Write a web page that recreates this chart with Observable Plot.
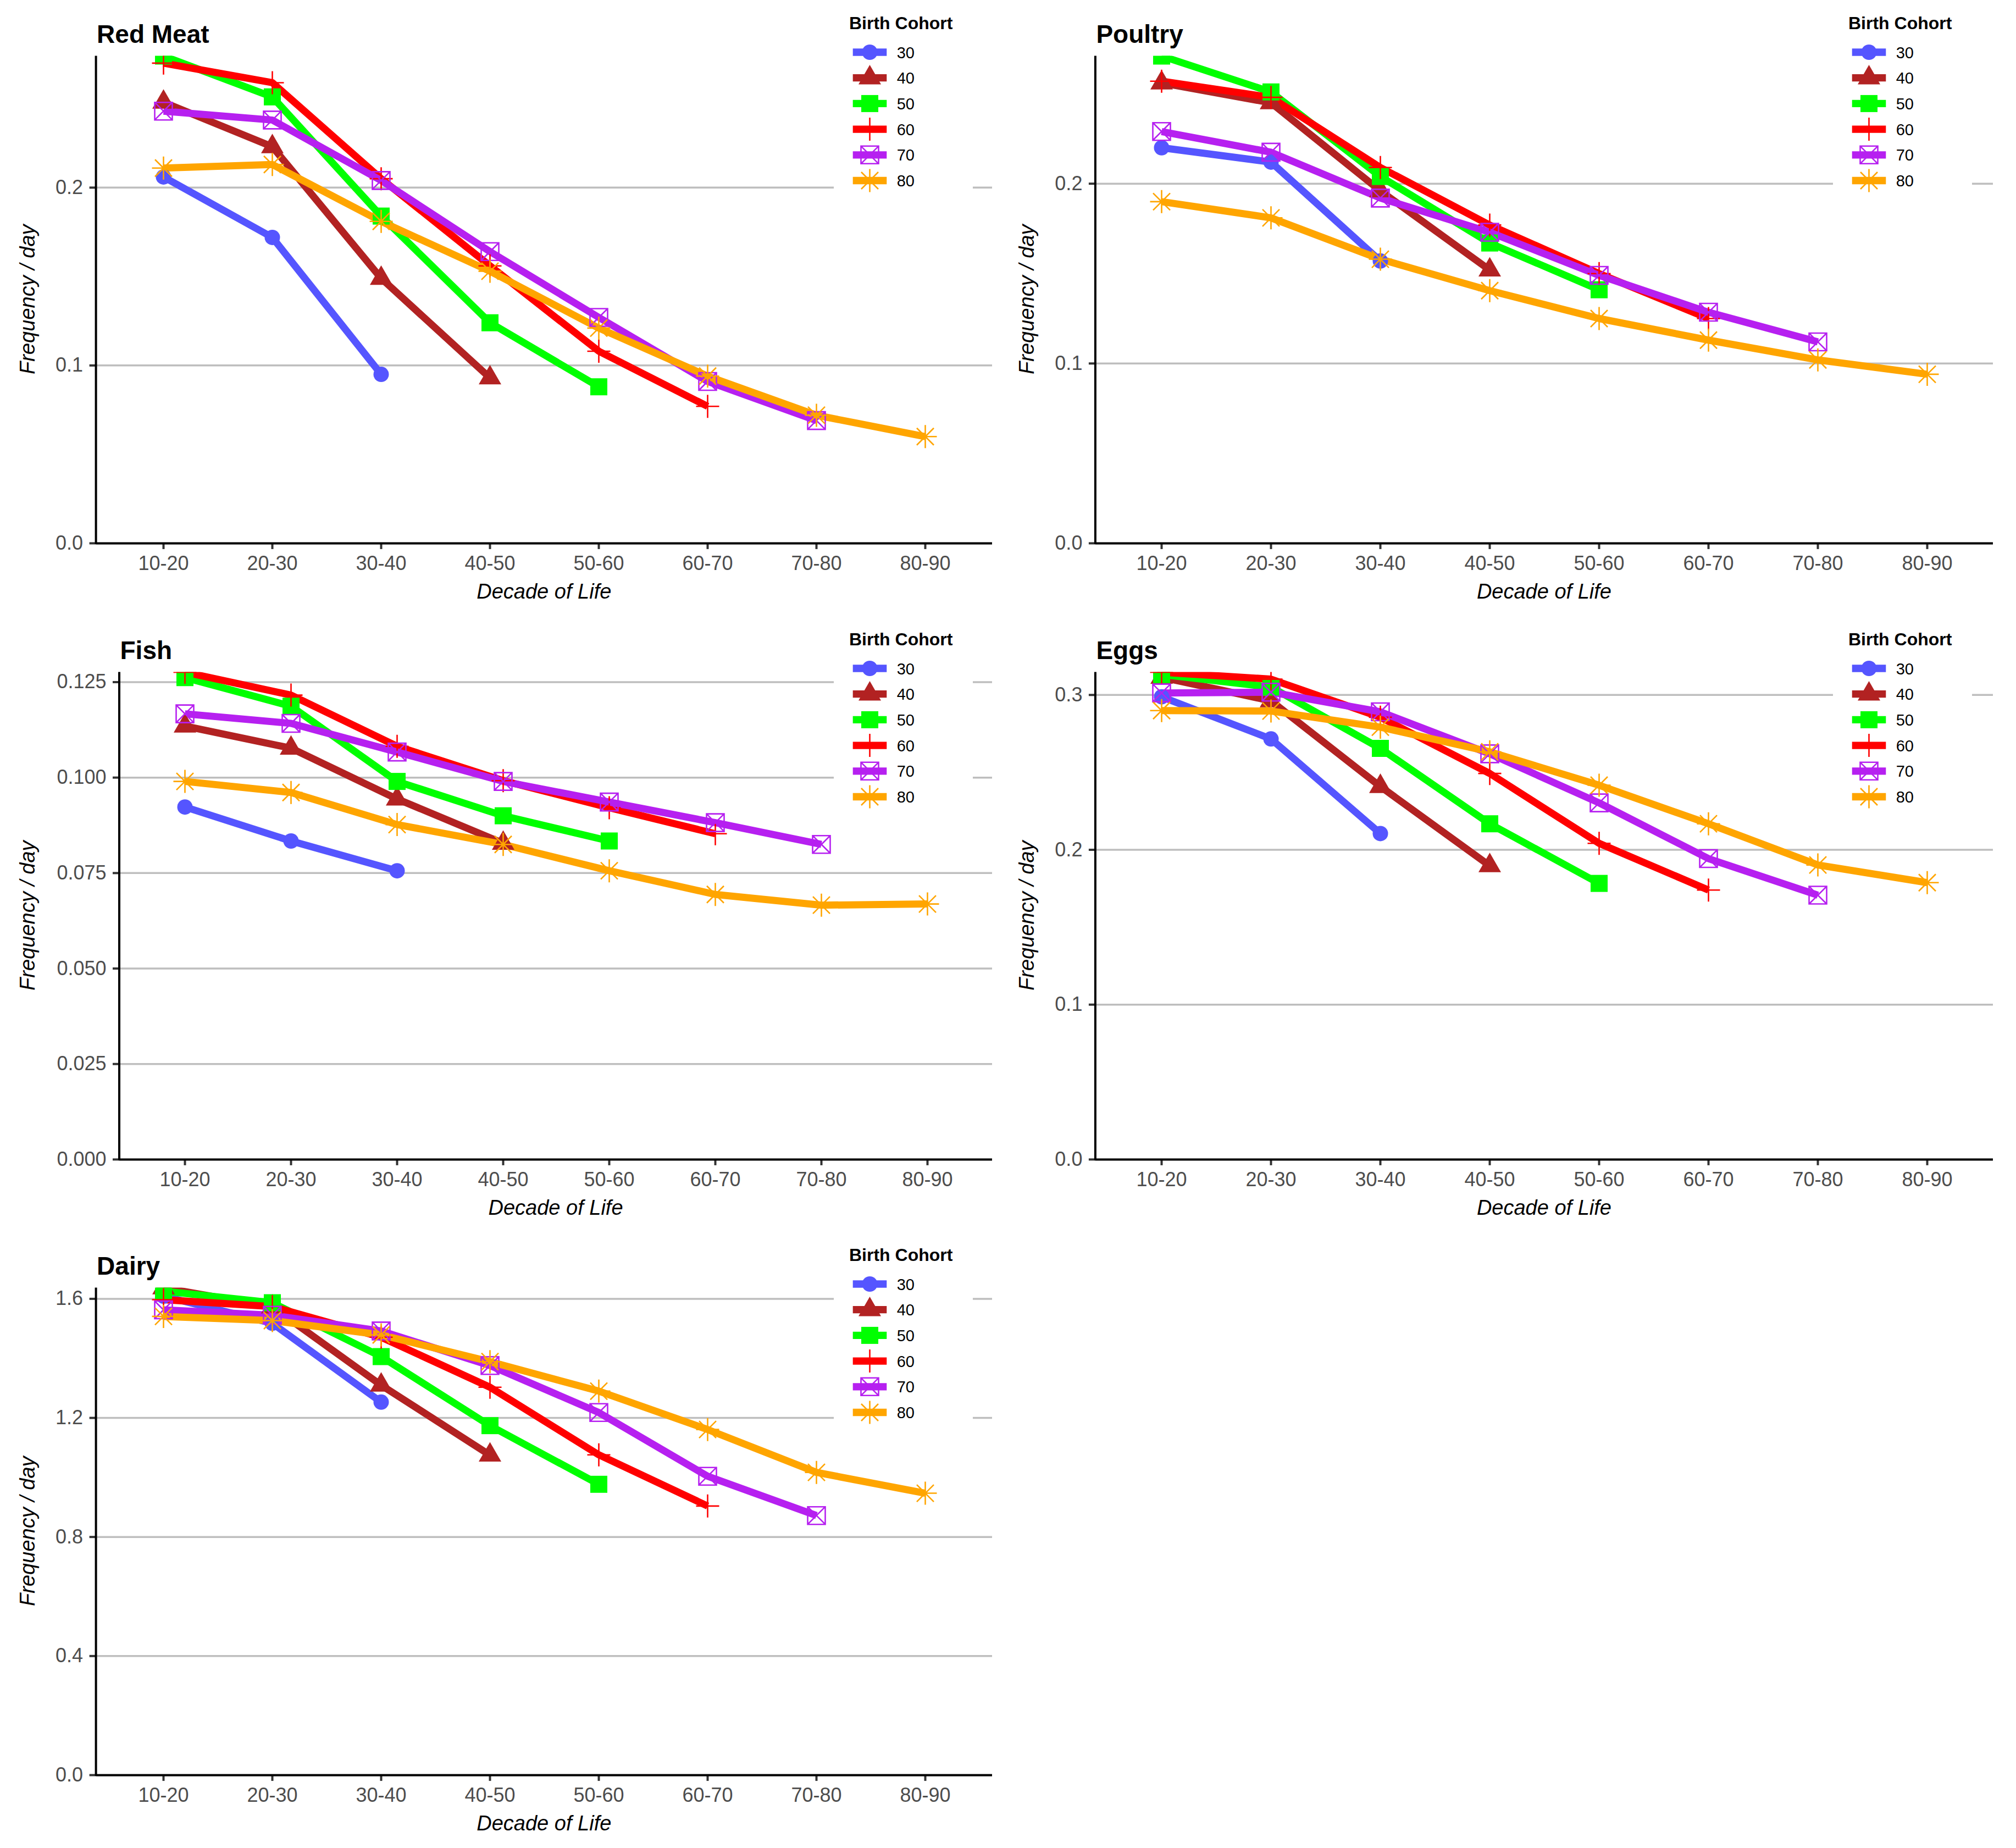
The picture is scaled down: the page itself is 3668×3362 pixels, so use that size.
<!DOCTYPE html>
<html>
<head>
<meta charset="utf-8">
<script src="https://cdn.jsdelivr.net/npm/d3@7"></script>
<script src="https://cdn.jsdelivr.net/npm/@observablehq/plot@0.6"></script>
<style>
html, body { margin: 0; padding: 0; background: #ffffff; }
#chart { position: relative; width: 3668px; height: 3362px; background: #ffffff; overflow: hidden;
  font-family: "Liberation Sans", Arial, Helvetica, sans-serif; }
.panel { position: absolute; width: 1818px; height: 1120px; }
.panel svg { position: absolute; left: 0; top: 0; }
</style>
</head>
<body>
<div id="chart"></div>
<script>
// ---------- data ----------
const decades = ["10-20", "20-30", "30-40", "40-50", "50-60", "60-70", "70-80", "80-90"];
const cohorts = ["30", "40", "50", "60", "70", "80"];

// one row per birth cohort (30 ... 80), values from decade 10-20 onward
const redMeat = [
  [0.206, 0.172, 0.095],
  [0.248, 0.223, 0.149, 0.093],
  [0.274, 0.251, 0.184, 0.124, 0.088],
  [0.270, 0.259, 0.205, 0.156, 0.108, 0.077],
  [0.243, 0.238, 0.204, 0.164, 0.127, 0.091, 0.069],
  [0.211, 0.213, 0.181, 0.153, 0.121, 0.094, 0.072, 0.060]
];
const poultry = [
  [0.220, 0.212, 0.157],
  [0.256, 0.245, 0.196, 0.152],
  [0.271, 0.251, 0.204, 0.167, 0.141],
  [0.257, 0.248, 0.209, 0.177, 0.150, 0.125],
  [0.229, 0.2175, 0.192, 0.173, 0.149, 0.1285, 0.112],
  [0.190, 0.181, 0.158, 0.1405, 0.125, 0.113, 0.102, 0.094]
];
const fish = [
  [0.0923, 0.0834, 0.0756],
  [0.1135, 0.1077, 0.0944, 0.0828],
  [0.1262, 0.1187, 0.0990, 0.0900, 0.0834],
  [0.1276, 0.1216, 0.1082, 0.0992, 0.0921, 0.0853],
  [0.1167, 0.1142, 0.1067, 0.0990, 0.0936, 0.0882, 0.0825],
  [0.0990, 0.0961, 0.0877, 0.0825, 0.0756, 0.0694, 0.0666, 0.0669]
];
const eggs = [
  [0.2988, 0.2716, 0.2105],
  [0.3114, 0.2962, 0.2409, 0.1897],
  [0.3132, 0.3051, 0.2655, 0.2168, 0.1783],
  [0.3147, 0.3102, 0.2856, 0.2493, 0.2042, 0.1740],
  [0.3013, 0.3018, 0.2891, 0.2620, 0.2303, 0.1943, 0.1707],
  [0.2899, 0.2896, 0.2792, 0.2633, 0.2417, 0.2168, 0.1902, 0.1788]
];
const dairy = [
  [1.609, 1.518, 1.253],
  [1.637, 1.573, 1.310, 1.075],
  [1.626, 1.587, 1.406, 1.174, 0.977],
  [1.597, 1.574, 1.471, 1.303, 1.076, 0.904],
  [1.563, 1.545, 1.492, 1.376, 1.218, 1.004, 0.872],
  [1.541, 1.527, 1.479, 1.389, 1.290, 1.161, 1.017, 0.947]
];

const panelTitles = ["Red Meat", "Poultry", "Fish", "Eggs", "Dairy"];
const panelValues = [redMeat, poultry, fish, eggs, dairy];
const panelTicks = [
  [0, 0.1, 0.2],
  [0, 0.1, 0.2],
  [0, 0.025, 0.05, 0.075, 0.1, 0.125],
  [0, 0.1, 0.2, 0.3],
  [0, 0.4, 0.8, 1.2, 1.6]
];
const panelTickFormats = [".1f", ".1f", ".3f", ".1f", ".1f"];

// ---------- styles / layout ----------
const cohortColors = ["#5555FF", "#B22222", "#00FF00", "#FF0000", "#B620F0", "#FFA500"];
const FONT = '"Liberation Sans", Arial, Helvetica, sans-serif';
const layout = [
  {x: 0,    y: 0,      left: 174.6, right: 13},
  {x: 1818, y: 0,      left: 174.9, right: 10},
  {x: 0,    y: 1120.5, left: 217,   right: 13},
  {x: 1818, y: 1120.5, left: 174.9, right: 10},
  {x: 0,    y: 2241,   left: 174.6, right: 13}
];
const PW = 1818, PH = 1120, TOP = 101.4, BOTTOM = 132.1;

// symbols (ggplot shapes 16, 17, 15, 3, 7, 8)
const symCircle = {draw(c) { c.moveTo(14, 0); c.arc(0, 0, 14, 0, 2 * Math.PI); c.closePath(); }};
const symTriangle = {draw(c) { const s = 41, h = s * Math.sqrt(3) / 2;
  c.moveTo(0, -2 * h / 3); c.lineTo(s / 2, h / 3); c.lineTo(-s / 2, h / 3); c.closePath(); }};
const symSquare = {draw(c) { c.moveTo(-15.5, -15.5); c.lineTo(15.5, -15.5); c.lineTo(15.5, 15.5); c.lineTo(-15.5, 15.5); c.closePath(); }};
const symPlus = {draw(c) { c.moveTo(-21, 0); c.lineTo(21, 0); c.moveTo(0, -21); c.lineTo(0, 21); }};
const symSquareX = {draw(c) { const a = 16;
  c.moveTo(-a, -a); c.lineTo(a, -a); c.lineTo(a, a); c.lineTo(-a, a); c.closePath();
  c.moveTo(-a, -a); c.lineTo(a, a); c.moveTo(a, -a); c.lineTo(-a, a); }};
const symAsterisk = {draw(c) { const a = 21, b = 15.5;
  c.moveTo(-a, 0); c.lineTo(a, 0); c.moveTo(0, -a); c.lineTo(0, a);
  c.moveTo(-b, -b); c.lineTo(b, b); c.moveTo(b, -b); c.lineTo(-b, b); }};
const cohortSymbols = [symCircle, symTriangle, symSquare, symPlus, symSquareX, symAsterisk];
const cohortFilled = [true, true, true, false, false, false];

const chart = document.getElementById("chart");

panelValues.forEach((values, p) => {
  const L = layout[p];
  const rows = [];
  values.forEach((series, ci) => {
    series.forEach((v, di) => rows.push({decade: decades[di], cohort: cohorts[ci], value: v}));
  });
  const ymax = d3.max(rows, d => d.value);
  const ticks = panelTicks[p];
  const fmt = d3.format(panelTickFormats[p]);

  const dotMarks = cohorts.map((c, ci) => {
    const sub = rows.filter(d => d.cohort === c);
    return cohortFilled[ci]
      ? Plot.dot(sub, {x: "decade", y: "value", r: 10, symbol: cohortSymbols[ci], fill: cohortColors[ci], stroke: "none", clip: true})
      : Plot.dot(sub, {x: "decade", y: "value", r: 10, symbol: cohortSymbols[ci], fill: "none", stroke: cohortColors[ci], strokeWidth: 2.6, clip: true});
  });

  const leftAxisLine = (index, scales, vals, dims) => {
    const ln = document.createElementNS("http://www.w3.org/2000/svg", "line");
    ln.setAttribute("x1", dims.marginLeft);
    ln.setAttribute("x2", dims.marginLeft);
    ln.setAttribute("y1", dims.marginTop);
    ln.setAttribute("y2", dims.height - dims.marginBottom + 2);
    ln.setAttribute("stroke", "#000000");
    ln.setAttribute("stroke-width", 4);
    return ln;
  };

  const plot = Plot.plot({
    width: PW, height: PH,
    marginLeft: L.left, marginRight: L.right, marginTop: TOP, marginBottom: BOTTOM,
    style: {fontFamily: FONT, background: "transparent", overflow: "visible"},
    x: {type: "point", domain: decades, padding: 0.6, label: null},
    y: {domain: [0, ymax], label: null},
    color: {type: "ordinal", domain: cohorts, range: cohortColors},
    marks: [
      Plot.ruleY(ticks, {stroke: "#BEBEBE", strokeWidth: 3.5}),
      Plot.line(rows, {x: "decade", y: "value", z: "cohort", stroke: "cohort", strokeWidth: 13,
        strokeLinejoin: "round", strokeLinecap: "butt", clip: true}),
      ...dotMarks,
      Plot.axisY(ticks, {tickFormat: fmt, tickSize: 12, tickPadding: 12, stroke: "#333333", strokeWidth: 4,
        fill: "#4D4D4D", fontSize: 36, label: null}),
      Plot.axisX({tickSize: 11, tickPadding: 12, stroke: "#333333", strokeWidth: 4,
        fill: "#4D4D4D", fontSize: 36, label: null}),
      Plot.ruleY([0], {stroke: "#000000", strokeWidth: 4}),
      leftAxisLine
    ]
  });

  const div = document.createElement("div");
  div.className = "panel";
  div.style.left = L.x + "px";
  div.style.top = L.y + "px";
  div.appendChild(plot);
  chart.appendChild(div);

  // overlay: title, axis titles, legend
  const ov = d3.select(div).append("svg")
    .attr("width", PW).attr("height", PH)
    .style("font-family", FONT).style("pointer-events", "none");

  ov.append("text").attr("x", L.left + 1.5).attr("y", 77.5)
    .attr("font-size", 46).attr("font-weight", "bold").attr("fill", "#000000")
    .text(panelTitles[p]);

  ov.append("text").attr("x", (L.left + PW - L.right) / 2).attr("y", 1089)
    .attr("text-anchor", "middle").attr("font-size", 38).attr("font-style", "italic").attr("fill", "#000000")
    .text("Decade of Life");

  ov.append("text").attr("transform", `translate(63,${(TOP + PH - BOTTOM) / 2}) rotate(-90)`)
    .attr("text-anchor", "middle").attr("font-size", 38).attr("font-style", "italic").attr("fill", "#000000")
    .text("Frequency / day");

  const leg = ov.append("g");
  leg.append("rect").attr("x", 1517).attr("y", 8).attr("width", 253).attr("height", 357).attr("fill", "#ffffff");
  leg.append("text").attr("x", 1545).attr("y", 53.3).attr("font-size", 32).attr("font-weight", "bold")
    .attr("fill", "#000000").text("Birth Cohort");
  cohorts.forEach((c, i) => {
    const cy = 95 + i * 46.7;
    leg.append("line").attr("x1", 1551.7).attr("x2", 1613.3).attr("y1", cy).attr("y2", cy)
      .attr("stroke", cohortColors[i]).attr("stroke-width", 13.3);
    const path = leg.append("path").attr("transform", `translate(1582.5,${cy})`)
      .attr("d", d3.symbol(cohortSymbols[i], 100)());
    if (cohortFilled[i]) path.attr("fill", cohortColors[i]).attr("stroke", "none");
    else path.attr("fill", "none").attr("stroke", cohortColors[i]).attr("stroke-width", 2.6);
    leg.append("text").attr("x", 1631.7).attr("y", cy + 10.5).attr("font-size", 29)
      .attr("fill", "#000000").text(c);
  });
});
</script>
</body>
</html>
